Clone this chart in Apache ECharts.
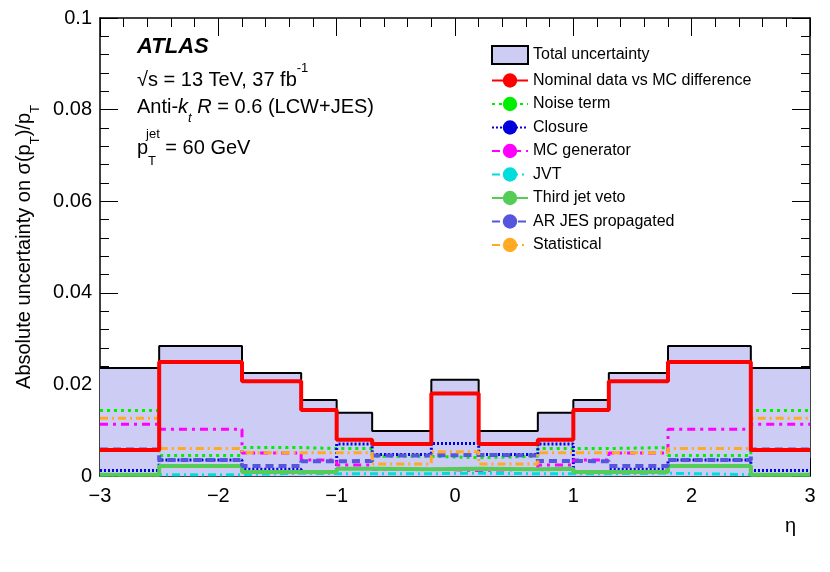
<!DOCTYPE html><html><head><meta charset="utf-8"><script src="https://cdn.jsdelivr.net/npm/echarts@6/dist/echarts.min.js"></script>
<style>body{margin:0}#c{width:830px;height:572px}</style></head><body><div id="c"></div><script>
const edges=[-3,-2.5,-1.8,-1.3,-1.0,-0.7,-0.2,0.2,0.7,1.0,1.3,1.8,2.5,3];
function sym(h,c){return h.concat([c]).concat(h.slice().reverse());}
const total  =sym([0.0236,0.0284,0.0225,0.0166,0.0138,0.0098],0.0210);
const nominal=sym([0.0057,0.0249,0.0207,0.0144,0.0079,0.0070],0.0180);
const noise  =sym([0.0143,0.0045,0.0062,0.0060,0.0060,0.0043],0.0040);
const closure=sym([0.0012,0.0035,0.0015,0.0010,0.0070,0.0047],0.0071);
const mcgen  =sym([0.0113,0.0102,0.0050,0.0035,0.0024,0.0015],0.0012);
const jvt    =sym([0.0003,0.0003,0.0006,0.0005,0.0005,0.0005],0.0006);
const third  =sym([0.0003,0.0022,0.0009,0.0009,0.0016,0.0015],0.0016);
const arjes  =sym([0.0058,0.0035,0.0022,0.0032,0.0033,0.0045],0.0046);
const stat   =sym([0.0126,0.0060,0.0051,0.0051,0.0051,0.0026],0.0053);
function steps(v){const d=v.map((y,i)=>[edges[i],y]);d.push([edges[edges.length-1],v[v.length-1]]);return d;}
function ser(name,v,color,width,type,z){return {name,type:'line',step:'end',data:steps(v),symbol:'none',z:z||3,
 lineStyle:{color,width,type},itemStyle:{color}};}
const series=[
 Object.assign(ser('Total uncertainty',total,'#000',2,'solid',1),{areaStyle:{color:'#ccccf5',opacity:1},itemStyle:{color:'#ccccf5',borderColor:'#000',borderWidth:1.5}}),
 ser('Nominal data vs MC difference',nominal,'#ff0000',4,'solid',9),
 ser('Noise term',noise,'#00ee00',3,[3,4]),
 ser('Closure',closure,'#0000dd',3,[2,2]),
 ser('MC generator',mcgen,'#ff00ff',3,[8,5,3,5]),
 ser('JVT',jvt,'#00dddd',3,[8,4,2,4]),
 ser('Third jet veto',third,'#55cc55',4,'solid'),
 ser('AR JES propagated',arjes,'#5555dd',4,[8,5]),
 ser('Statistical',stat,'#ffaa22',3,[8,4,2,4])
];
const ch=echarts.init(document.getElementById('c'));
const F='Liberation Sans, Arial, sans-serif';
const tick={inside:true,length:18,lineStyle:{color:'#000'}};
const mtick={show:true,splitNumber:5,length:9,lineStyle:{color:'#000'}};
ch.setOption({animation:false,textStyle:{fontFamily:F},
 grid:{left:100,right:20,top:18,bottom:96},
 legend:{orient:'vertical',left:486,top:40,height:260,itemGap:7.5,itemWidth:36,itemHeight:18,textStyle:{fontSize:16,color:'#000',fontFamily:F},
  data:series.map((s,i)=>i==0?{name:s.name,icon:'rect'}:{name:s.name})},
 xAxis:[{type:'value',min:-3,max:3,interval:1,name:'η',nameLocation:'end',nameGap:0,
  nameTextStyle:{fontSize:20,color:'#000',padding:[40,0,0,-25],verticalAlign:'top'},
  axisLine:{onZero:false,lineStyle:{color:'#000',width:1.5}},axisTick:tick,minorTick:mtick,
  axisLabel:{fontSize:20,color:'#000',margin:10,formatter:v=>v<0?'−'+(-v):''+v},splitLine:{show:false}},
  {type:'value',position:'top',min:-3,max:3,interval:1,axisLine:{onZero:false,lineStyle:{color:'#000',width:1.5}},axisTick:tick,minorTick:mtick,axisLabel:{show:false},splitLine:{show:false}}],
 yAxis:[{type:'value',min:0,max:0.1,interval:0.02,
  name:'{a|Absolute uncertainty on σ(p}{s|T}{a|)/p}{s|T}',nameLocation:'middle',nameGap:62,
  nameTextStyle:{rich:{a:{fontSize:20,color:'#000'},s:{fontSize:13,color:'#000',verticalAlign:'bottom',padding:[0,0,-8,0]}}},
  axisLine:{show:true,onZero:false,lineStyle:{color:'#000',width:1.5}},axisTick:tick,minorTick:mtick,
  axisLabel:{fontSize:20,color:'#000',formatter:v=>v==0?'0':(+v.toFixed(2))+''},splitLine:{show:false}},
  {type:'value',position:'right',min:0,max:0.1,interval:0.02,axisLine:{show:true,onZero:false,lineStyle:{color:'#000',width:1.5}},axisTick:tick,minorTick:mtick,axisLabel:{show:false},splitLine:{show:false}}],
 series,
 graphic:[
  {type:'text',left:137,top:36,style:{text:'ATLAS',font:'italic bold 22px '+F,fill:'#000'}},
  {type:'text',left:137,top:62,style:{text:'√s = 13 TeV, 37 fb{s|-1}',rich:{s:{fontSize:13,verticalAlign:'top',padding:[-8,0,0,0]}},font:'20px '+F,fill:'#000'}},
  {type:'text',left:137,top:97,style:{text:'Anti-{i|k}{s|t} {i|R} = 0.6 (LCW+JES)',rich:{i:{fontStyle:'italic',fontSize:20},s:{fontStyle:'italic',fontSize:13,verticalAlign:'bottom',padding:[0,0,-8,0]}},font:'20px '+F,fill:'#000'}},
  {type:'text',left:137,top:128,style:{text:'p{s|T}{u|jet} = 60 GeV',rich:{s:{fontSize:13,verticalAlign:'bottom',padding:[0,0,-10,0]},u:{fontSize:13,verticalAlign:'top',padding:[-10,0,0,-10]}},font:'20px '+F,fill:'#000'}}
 ]
});
</script></body></html>
